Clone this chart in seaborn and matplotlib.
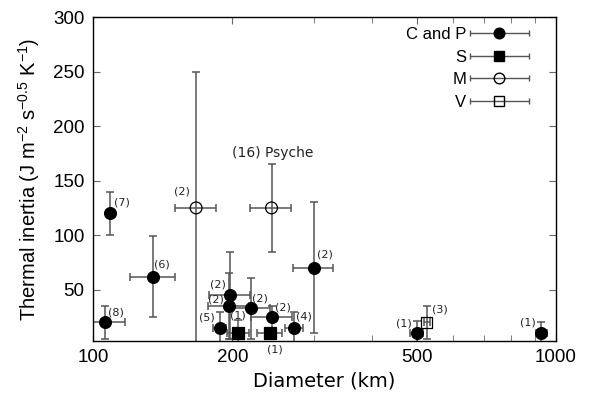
import numpy as np
import pandas as pd
import matplotlib
matplotlib.use('Agg')
import matplotlib.pyplot as plt
import seaborn as sns
from matplotlib.ticker import FixedLocator, NullFormatter
from matplotlib.container import ErrorbarContainer
from matplotlib.legend_handler import HandlerErrorbar

# Data: diameter (km), thermal inertia, errors, sample counts
cp_d = [109, 135, 106, 198, 197, 219, 244, 188, 272, 300, 500, 930]
cp_ti = [120, 62, 20, 45, 35, 33, 25, 15, 15, 70, 10, 10]
cp_d_err = [0, 15, 11, 20, 20, 22, 25, 6, 12, 30, 17, 25]
cp_ti_err = [20, 37, 15, 40, 30, 28, 10, 15, 15, 60, 11, 10]
cp_n = ['(7)', '(6)', '(8)', '(2)', '(2)', '(2)', '(2)', '(5)', '(4)', '(2)', '(1)', '(1)']

s_d = [206, 241]
s_ti = [10, 10]
s_d_err = [11, 15]
s_ti_err = [12, 4]
s_n = ['(1)', '(1)']

m_d = [167, 243]
m_ti = [125, 125]
m_d_err = [17, 25]
m_ti_err = [125, 40]
m_n = ['(2)', '(16) Psyche']

v_d = [526]
v_ti = [20]
v_d_err = [8]
v_ti_err = [15]
v_n = ['(3)']

# label offsets in pixels
cp_off = [(12, 11), (9, 12), (11, 10), (-12, 11), (-13, 7), (9, 10), (11, 10),
          (-13, 10), (10, 11), (11, 13), (-13, 10), (-14, 11)]
s_off = [(0, 18), (5, -16)]
m_off = [(-14, 16), (1, 55)]
v_off = [(13, 13)]

sns.set_style('ticks')
plt.rcParams['font.family'] = ['Liberation Sans', 'DejaVu Sans']
plt.rcParams['mathtext.default'] = 'regular'
plt.rcParams['text.color'] = 'black'
plt.rcParams['axes.labelcolor'] = 'black'
plt.rcParams['xtick.labelcolor'] = 'black'
plt.rcParams['ytick.labelcolor'] = 'black'

fig = plt.figure(figsize=(5.93, 4.01), dpi=100)
ax = fig.add_axes([93 / 593, 1 - 341 / 401, 463 / 593, 324 / 401])

ecol = '#555555'
groups = [
    ('C and P', cp_d, cp_ti, cp_d_err, cp_ti_err, cp_n, cp_off, 'o', 'black', 8.5),
    ('S', s_d, s_ti, s_d_err, s_ti_err, s_n, s_off, 's', 'black', 8),
    ('M', m_d, m_ti, m_d_err, m_ti_err, m_n, m_off, 'o', 'none', 8.5),
    ('V', v_d, v_ti, v_d_err, v_ti_err, v_n, v_off, 's', 'none', 8),
]

for name, d, ti, de, te, nn, off, mk, fc, ms in groups:
    ax.errorbar(d, ti, xerr=de, yerr=te, fmt='none', ecolor=ecol,
                elinewidth=1.1, capsize=3, capthick=1.1, zorder=2)
    df = pd.DataFrame({'d': d, 'ti': ti})
    sns.scatterplot(data=df, x='d', y='ti', marker=mk, s=ms ** 2,
                    facecolor=fc, edgecolor='black', linewidth=0.9,
                    ax=ax, zorder=3)
    for xi, yi, lab, (ox, oy) in zip(d, ti, nn, off):
        fs = 10 if 'Psyche' in lab else 8
        ax.annotate(lab, (xi, yi), xytext=(ox, oy), textcoords='offset pixels',
                    ha='center', va='center', fontsize=fs,
                    family='DejaVu Sans', color='#222222')

# legend handles: horizontal error bars only
handles = []
for name, d, ti, de, te, nn, off, mk, fc, ms in groups:
    h = ax.errorbar([np.nan], [np.nan], xerr=[1], fmt=mk, color='black',
                    ecolor=ecol, mfc=fc, mec='black', ms=ms * 0.9,
                    elinewidth=1.0, capsize=2, label=name)
    handles.append(h)
ax.legend(handles=handles, loc='upper right', bbox_to_anchor=(0.975, 1.015),
          frameon=False, markerfirst=False, fontsize=12, handlelength=3.6,
          handletextpad=0.2, labelspacing=0.45,
          handler_map={ErrorbarContainer: HandlerErrorbar(xerr_size=1.75)})

ax.set_xscale('log')
ax.set_xlim(100, 1000)
ax.set_ylim(3, 300)
ax.xaxis.set_major_locator(FixedLocator([100, 200, 500, 1000]))
ax.xaxis.set_minor_locator(FixedLocator([300, 400, 600, 700, 800, 900]))
ax.xaxis.set_minor_formatter(NullFormatter())
ax.set_xticklabels(['100', '200', '500', '1000'])
ax.set_yticks([50, 100, 150, 200, 250, 300])
ax.tick_params(which='both', direction='in', top=True, right=True,
               color='#666666', labelsize=13.5, pad=6)
ax.tick_params(which='major', length=5)
ax.tick_params(which='minor', length=4)
for sp in ax.spines.values():
    sp.set_linewidth(1.0)
    sp.set_color('black')

ax.set_xlabel('Diameter (km)', fontsize=14, family='DejaVu Sans', labelpad=4)
ax.set_ylabel('Thermal inertia (J m$^{-2}$ s$^{-0.5}$ K$^{-1}$)', fontsize=14.5,
              labelpad=8)

fig.savefig('out.png', dpi=100)
